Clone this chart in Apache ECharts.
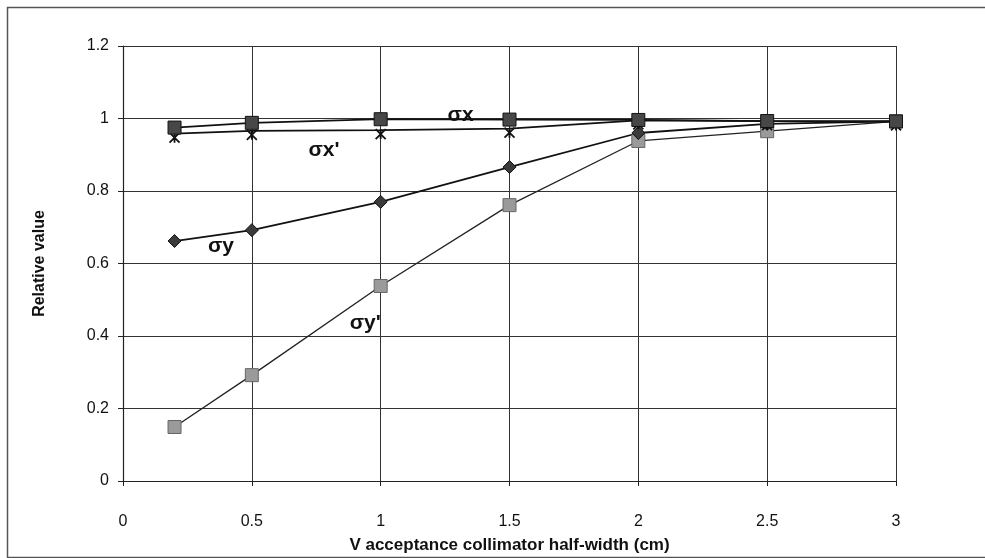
<!DOCTYPE html>
<html>
<head>
<meta charset="utf-8">
<script src="https://cdn.jsdelivr.net/npm/echarts@6/dist/echarts.min.js"></script>
<style>
html, body { margin: 0; padding: 0; background: #fff; }
#box { width: 985px; height: 558px; }
</style>
</head>
<body>
<div id="box"></div>
<script>
// collimator half-width (cm)
const halfWidth = [0.2, 0.5, 1, 1.5, 2, 2.5, 3]

// relative values
const sigmaX = [0.975, 0.988, 0.998, 0.997, 0.996, 0.993, 0.992]
const sigmaXp = [0.958, 0.966, 0.968, 0.972, 0.995, 0.993, 0.992]
const sigmaY = [0.662, 0.692, 0.77, 0.866, 0.96, 0.985, 0.992]
const sigmaYp = [0.149, 0.292, 0.538, 0.761, 0.938, 0.965, 0.992]

// curve labels [x, y, text]
const curveLabels = [
  [1.31, 1.008, 'σx'],
  [0.78, 0.913, "σx'"],
  [0.38, 0.648, 'σy'],
  [0.94, 0.436, "σy'"]
]

const pairs = (ys) => halfWidth.map((x, i) => [x, ys[i]])

const myChart = echarts.init(document.getElementById('box'))

const font = 'Liberation Sans, Arial, sans-serif'

const labelFont = {
  fontFamily: font,
  fontSize: 21,
  fontWeight: 'bold',
  color: '#111'
}

const option = {
  animation: false,
  backgroundColor: '#fff',
  graphic: [
    {
      type: 'rect',
      left: 5, top: 5,
      shape: { width: 990, height: 550 },
      style: { fill: 'none', stroke: '#555', lineWidth: 1.5 }
    }
  ],
  grid: { left: 123, top: 46, right: 89, bottom: 77, outerBoundsMode: 'none' },
  xAxis: {
    type: 'value',
    min: 0, max: 3, interval: 0.5,
    name: 'V acceptance collimator half-width (cm)',
    nameLocation: 'middle',
    nameGap: 56,
    nameTextStyle: { fontFamily: font, fontSize: 17, fontWeight: 'bold', color: '#111' },
    axisLine: { onZero: false, lineStyle: { color: '#222', width: 1.2 } },
    axisTick: { show: true, length: 5, lineStyle: { color: '#222' } },
    axisLabel: { margin: 33, fontFamily: font, fontSize: 16, color: '#111' },
    splitLine: { show: true, lineStyle: { color: '#333', width: 1 } }
  },
  yAxis: {
    type: 'value',
    min: 0, max: 1.2, interval: 0.2,
    name: 'Relative value',
    nameLocation: 'middle',
    nameGap: 75,
    nameTextStyle: { fontFamily: font, fontSize: 16, fontWeight: 'bold', color: '#111' },
    axisLine: { show: true, lineStyle: { color: '#222', width: 1.2 } },
    axisTick: { show: true, length: 5, lineStyle: { color: '#222' } },
    axisLabel: { margin: 14, fontFamily: font, fontSize: 16, color: '#111' },
    splitLine: { show: true, lineStyle: { color: '#333', width: 1 } }
  },
  series: [
    {
      name: "σy'",
      type: 'line',
      data: pairs(sigmaYp),
      symbol: 'rect',
      symbolSize: 13,
      lineStyle: { color: '#222', width: 1.3 },
      itemStyle: { color: '#9a9a9a', borderColor: '#666', borderWidth: 1 },
      markPoint: {
        symbol: 'circle', symbolSize: 0,
        label: { show: true, formatter: (p) => p.name, ...labelFont },
        data: curveLabels.map(l => ({ coord: [l[0], l[1]], name: l[2] }))
      }
    },
    {
      name: 'σy',
      type: 'line',
      data: pairs(sigmaY),
      symbol: 'diamond',
      symbolSize: 13,
      lineStyle: { color: '#111', width: 1.8 },
      itemStyle: { color: '#3a3a3a', borderColor: '#111', borderWidth: 1 }
    },
    {
      name: "σx'",
      type: 'line',
      data: pairs(sigmaXp),
      symbol: 'path://M0,0L10,10M10,0L0,10M5,0L5,10',
      symbolSize: 10,
      symbolOffset: [0, 4],
      lineStyle: { color: '#111', width: 1.8 },
      itemStyle: { color: 'transparent', borderColor: '#111', borderWidth: 1.8 }
    },
    {
      name: 'σx',
      type: 'line',
      data: pairs(sigmaX),
      symbol: 'rect',
      symbolSize: 13,
      lineStyle: { color: '#111', width: 1.8 },
      itemStyle: { color: '#474747', borderColor: '#111', borderWidth: 1 }
    }
  ]
}

myChart.setOption(option)
</script>
</body>
</html>
